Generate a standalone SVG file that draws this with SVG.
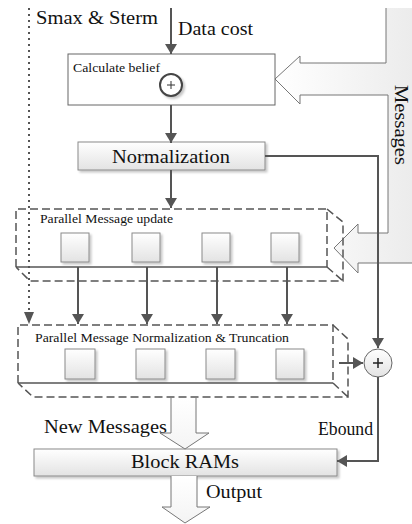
<svg xmlns="http://www.w3.org/2000/svg" width="412" height="524" viewBox="0 0 412 524">
  <defs>
    <linearGradient id="boxFill" x1="0" y1="0" x2="0" y2="1">
      <stop offset="0" stop-color="#ffffff"/>
      <stop offset="1" stop-color="#e3e3e3"/>
    </linearGradient>
    <linearGradient id="bandFill" gradientUnits="userSpaceOnUse" x1="275" y1="0" x2="412" y2="0">
      <stop offset="0" stop-color="#ffffff"/>
      <stop offset="1" stop-color="#ececec"/>
    </linearGradient>
    <linearGradient id="hollowFill" x1="0" y1="0" x2="0" y2="1">
      <stop offset="0" stop-color="#ffffff"/>
      <stop offset="1" stop-color="#f4f4f4"/>
    </linearGradient>
    <filter id="shadow" x="-20%" y="-20%" width="150%" height="160%">
      <feDropShadow dx="2" dy="2" stdDeviation="1.2" flood-color="#000" flood-opacity="0.22"/>
    </filter>
    <marker id="arrow" viewBox="0 0 10 12" refX="10" refY="6" markerWidth="10" markerHeight="12" markerUnits="userSpaceOnUse" orient="auto">
      <path d="M0,0 L10,6 L0,12 Z" fill="#555"/>
    </marker>
  </defs>
  <style>
    .lbl { font-family: "Liberation Serif", "Times New Roman", serif; fill: #111; }
    .big { font-size: 18px; }
    .small { font-size: 13px; }
    .wire { fill: none; stroke: #555; stroke-width: 2; }
    .dash { fill: none; stroke: #555; stroke-width: 1.5; stroke-dasharray: 8 4; }
    .solid { fill: none; stroke: #555; stroke-width: 1.5; }
    .box { fill: url(#boxFill); stroke: #8a8a8a; stroke-width: 1; filter: url(#shadow); }
    .cell { fill: url(#boxFill); stroke: #8a8a8a; stroke-width: 1; filter: url(#shadow); }
    .hollow { fill: url(#hollowFill); stroke: #777; stroke-width: 1; }
  </style>

  <!-- Messages feedback band with two arrow heads -->
  <g id="messages">
    <path d="M386,8 L386,63 L300,63 L300,56 L275,79 L300,104 L300,95 L388,95 L388,233 L358,233 L358,224 L334,248 L358,273 L358,263 L420,263 L420,8 Z" fill="url(#bandFill)" stroke="none"/>
    <path d="M386,8 L386,63 L300,63 L300,56 L275,79 L300,104 L300,95 L388,95 L388,233 L358,233 L358,224 L334,248 L358,273 L358,263 L412,263" fill="none" stroke="#777" stroke-width="1"/>
    <text class="lbl big" transform="translate(395,85) rotate(90)" textLength="80" lengthAdjust="spacingAndGlyphs">Messages</text>
  </g>

  <!-- free labels -->
  <g id="labels">
    <text class="lbl big" x="36" y="24" textLength="122" lengthAdjust="spacingAndGlyphs">Smax &amp; Sterm</text>
    <text class="lbl big" x="178" y="35" textLength="75" lengthAdjust="spacingAndGlyphs">Data cost</text>
    <text class="lbl big" x="44" y="433" textLength="123" lengthAdjust="spacingAndGlyphs">New Messages</text>
    <text class="lbl big" x="318" y="435" textLength="55" lengthAdjust="spacingAndGlyphs">Ebound</text>
    <text class="lbl big" x="206" y="498" textLength="56" lengthAdjust="spacingAndGlyphs">Output</text>
  </g>

  <!-- Calculate belief -->
  <g id="calc-belief">
    <rect x="68" y="54" width="207" height="51" fill="#fff" stroke="#666" stroke-width="1"/>
    <text class="lbl small" x="73" y="72" textLength="87" lengthAdjust="spacingAndGlyphs">Calculate belief</text>
    <circle cx="171" cy="85" r="11" fill="#fff" stroke="#444" stroke-width="2" filter="url(#shadow)"/>
    <path d="M167,85 H175 M171,81 V89" stroke="#333" stroke-width="1"/>
  </g>

  <!-- Normalization -->
  <g id="normalization">
    <rect class="box" x="78" y="142" width="187" height="28"/>
    <text class="lbl big" x="171" y="163" text-anchor="middle" textLength="118" lengthAdjust="spacingAndGlyphs">Normalization</text>
  </g>

  <!-- Parallel Message update (dashed 3D block) -->
  <g id="msg-update">
    <path class="dash" d="M16,267 V209 H327 V267"/>
    <path class="dash" d="M327,209 L343,222 V281 H30 L16,267 M327,267 L343,281"/>
    <path class="solid" d="M16,267 H327"/>
    <text class="lbl small" x="40" y="223" textLength="133" lengthAdjust="spacingAndGlyphs">Parallel Message update</text>
    <rect class="cell" x="61" y="233" width="28" height="29"/>
    <rect class="cell" x="132" y="233" width="28" height="29"/>
    <rect class="cell" x="202" y="233" width="28" height="29"/>
    <rect class="cell" x="271" y="233" width="28" height="29"/>
  </g>

  <!-- Parallel Message Normalization & Truncation (dashed 3D block) -->
  <g id="msg-norm-trunc">
    <path class="dash" d="M18,383 V325 H333 V383"/>
    <path class="dash" d="M333,325 L348,339 V397 H33 L18,383 M333,383 L348,397"/>
    <path class="solid" d="M18,383 H333"/>
    <text class="lbl small" x="35" y="342" textLength="254" lengthAdjust="spacingAndGlyphs">Parallel Message Normalization &amp; Truncation</text>
    <rect class="cell" x="65" y="349" width="30" height="30"/>
    <rect class="cell" x="136" y="349" width="29" height="30"/>
    <rect class="cell" x="206" y="349" width="29" height="30"/>
    <rect class="cell" x="276" y="349" width="28" height="30"/>
  </g>

  <!-- Ebound adder -->
  <g id="adder">
    <circle cx="378" cy="363" r="14" fill="url(#boxFill)" stroke="#666" stroke-width="1"/>
    <path d="M373,363 H383 M378,358 V368" stroke="#222" stroke-width="1.5"/>
  </g>

  <!-- Block RAMs -->
  <g id="block-rams">
    <rect class="box" x="34" y="449" width="303" height="27"/>
    <text class="lbl big" x="185" y="468" text-anchor="middle" textLength="108" lengthAdjust="spacingAndGlyphs">Block RAMs</text>
  </g>

  <!-- connectors -->
  <g id="connectors">
    <path class="wire" d="M171,8 V54" marker-end="url(#arrow)"/>
    <path class="wire" d="M171,105 V143" marker-end="url(#arrow)"/>
    <path class="wire" d="M171,170 V208" marker-end="url(#arrow)"/>
    <path class="wire" d="M265,156 H378 V348" marker-end="url(#arrow)"/>
    <path class="wire" d="M78,267 V324" marker-end="url(#arrow)"/>
    <path class="wire" d="M147,267 V324" marker-end="url(#arrow)"/>
    <path class="wire" d="M217,267 V324" marker-end="url(#arrow)"/>
    <path class="wire" d="M287,267 V324" marker-end="url(#arrow)"/>
    <path d="M29,8 V314" fill="none" stroke="#555" stroke-width="2" stroke-dasharray="2 4"/>
    <path d="M24,312 L29,324 L34,312 Z" fill="#555"/>
    <path class="wire" d="M339,363 H363" marker-end="url(#arrow)"/>
    <path class="wire" d="M378,377 V461 H337" marker-end="url(#arrow)"/>
    <!-- hollow data-path arrows -->
    <path class="hollow" d="M171,398 V433 H160 L185,449 L209,433 H196 V398"/>
    <path class="hollow" d="M171,476 V507 H162 L185,523 L210,507 H197 V476"/>
  </g>
</svg>
